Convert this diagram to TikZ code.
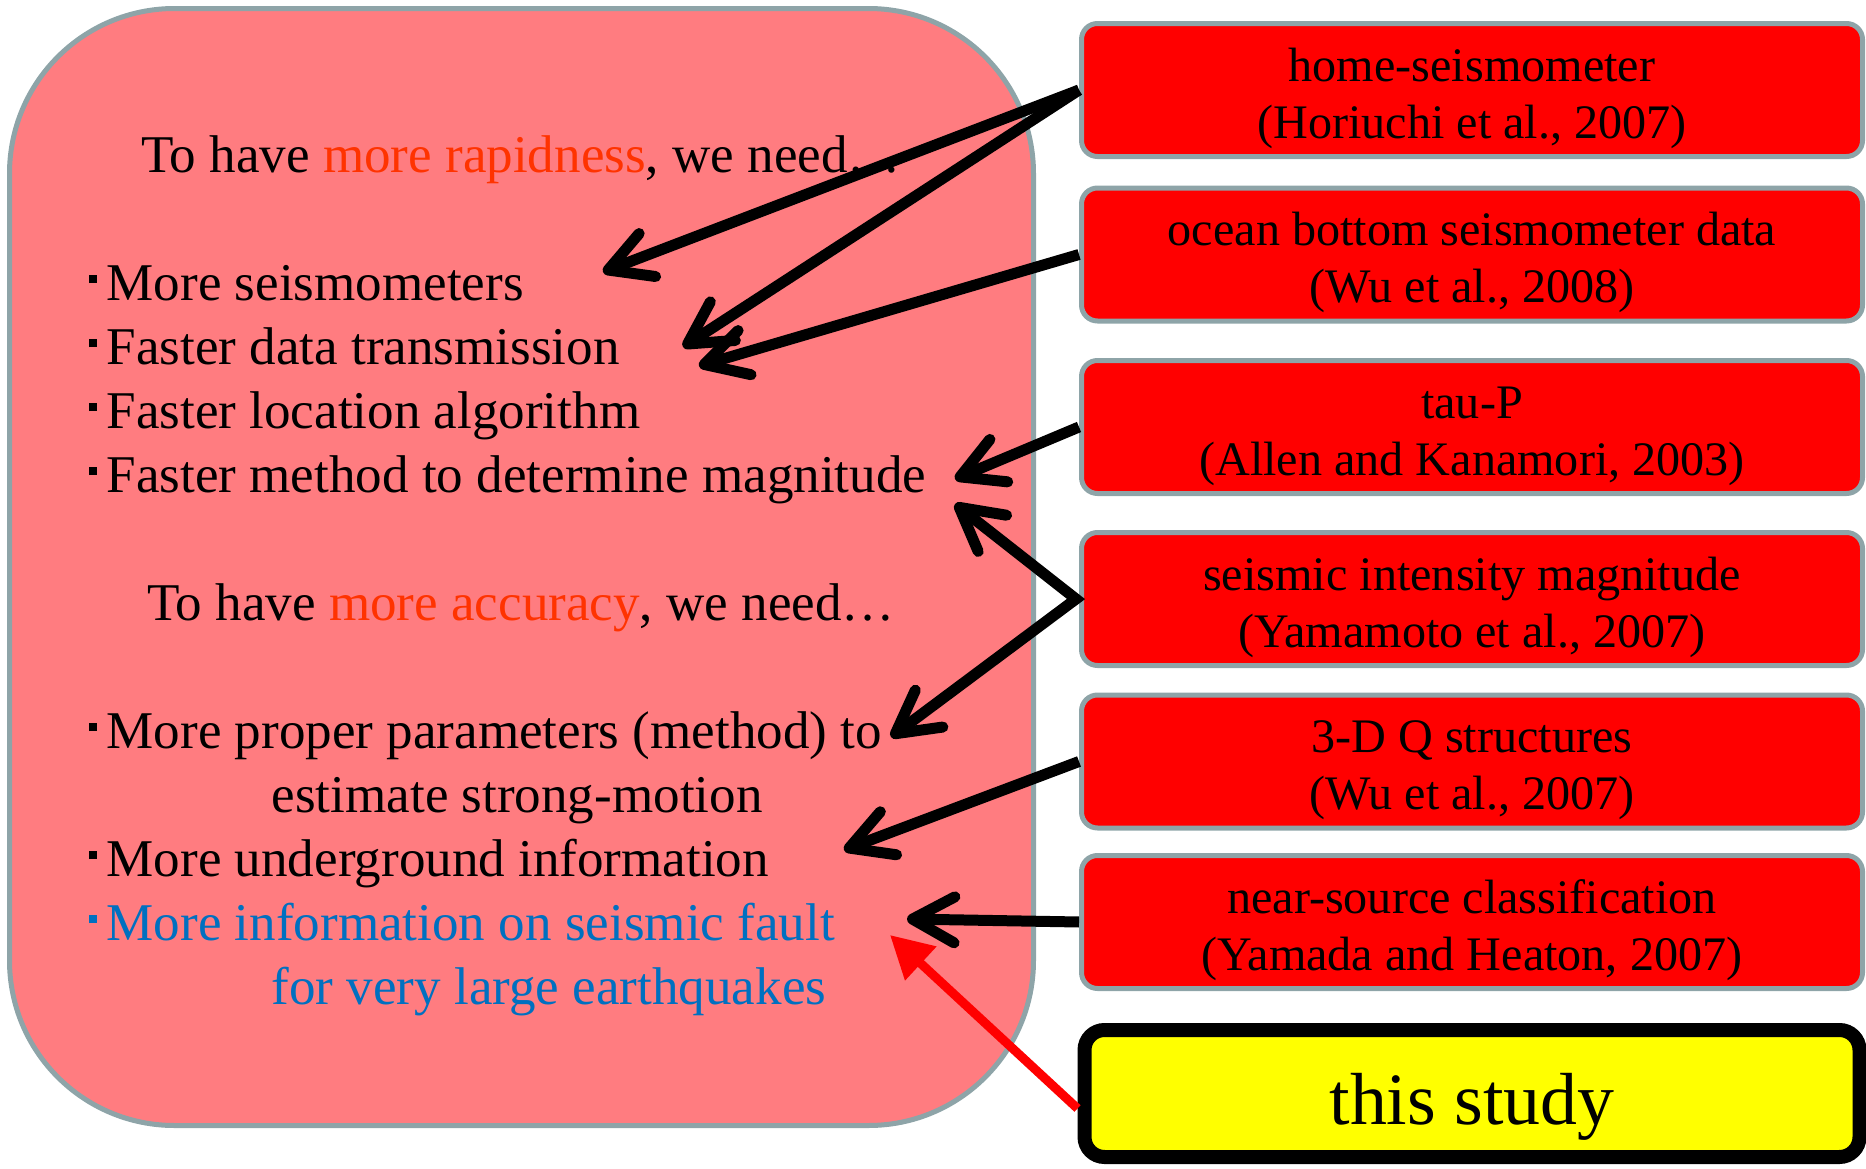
\documentclass[tikz,border=0pt]{standalone}
\usepackage{fontspec}
\setmainfont{Liberation Serif}
\usetikzlibrary{arrows.meta, positioning}
\definecolor{clrNeed}{HTML}{FF7C80}
\definecolor{clrEdge}{HTML}{8EA4A8}
\definecolor{clrRef}{HTML}{FF0000}
\definecolor{clrStudy}{HTML}{FFFF00}
\definecolor{clrHi}{HTML}{FF3300}
\definecolor{clrBlue}{HTML}{0070C0}
\newcommand{\sqbul}{\rule[0.32em]{0.15em}{0.15em}\hspace{0.19em}}
\newcommand{\reftop}{\rule{0pt}{1.03em}}
\tikzset{
  need/.style = {font=\fontsize{15.1}{18.2}\selectfont, inner sep=0pt},
  head/.style = {need, anchor=base},
  item/.style = {need, anchor=base west},
  arrow/.style = {->, >={Straight Barb[round, length=4.2mm, width=4.6mm]}, line width=1.1mm},
  rarrow/.style = {->, >={Triangle[length=4.2mm, width=4.4mm]}, line width=0.9mm, color=clrRef},
}

\begin{document}
\begin{tikzpicture}[x=0.1mm, y=-0.1mm,
  needbox/.style = {rectangle, rounded corners=16.5mm, minimum width=102.4mm, minimum height=111.7mm,
                    draw=clrEdge, line width=0.5mm, fill=clrNeed},
  ref/.style = {rectangle, rounded corners=1.6mm, minimum width=78.1mm, minimum height=13.3mm, inner ysep=0.3mm,
                align=center, font=\fontsize{13.7}{16.3}\selectfont, draw=clrEdge, line width=0.5mm, fill=clrRef},
  study/.style = {rectangle, rounded corners=2mm, minimum width=77.5mm, minimum height=12.7mm, inner ysep=0.5mm,
                  text height=6.2mm, text depth=0pt,
                  font=\fontsize{21}{25}\selectfont, draw=black, line width=1.4mm, fill=clrStudy},
]
  \useasboundingbox (0,0) rectangle (1866,1168);

  % Left panel: what is needed
  \node[needbox] (Needs) at (521.5,567) {};
  \node[head] (Rapid) at (521,172) {To have \textcolor{clrHi}{more rapidness}, we need…};
  \node[item] (Seis)  at (88,300) {\sqbul More seismometers};
  \node[item] (Trans) at (88,364) {\sqbul Faster data transmission};
  \node[item] (Loc)   at (88,428) {\sqbul Faster location algorithm};
  \node[item] (Mag)   at (88,492) {\sqbul Faster method to determine magnitude};
  \node[head] (Accur) at (521,620) {To have \textcolor{clrHi}{more accuracy}, we need…};
  \node[item] (Param)  at (88,748)  {\sqbul More proper parameters (method) to};
  \node[item] (ParamB) at (271,812) {estimate strong-motion};
  \node[item] (Under)  at (88,876)  {\sqbul More underground information};
  \node[item, text=clrBlue] (Fault)  at (88,940)  {\sqbul More information on seismic fault};
  \node[item, text=clrBlue] (FaultB) at (271,1004) {for very large earthquakes};

  % Right column: references
  \node[ref] (Home) at (1472,90) {\reftop home-seismometer\\(Horiuchi et al., 2007)};
  \node[ref, below=2.65mm of Home]   (OBS)     {\reftop ocean bottom seismometer data\\(Wu et al., 2008)};
  \node[ref, below=3.45mm of OBS]    (TauP)    {\reftop tau-P\\(Allen and Kanamori, 2003)};
  \node[ref, below=3.4mm of TauP]    (Intens)  {\reftop seismic intensity magnitude\\(Yamamoto et al., 2007)};
  \node[ref, below=2.45mm of Intens] (QStruct) {\reftop 3-D Q structures\\(Wu et al., 2007)};
  \node[ref, below=2.25mm of QStruct](NearSrc) {\reftop near-source classification\\(Yamada and Heaton, 2007)};
  \node[study, below=3.2mm of NearSrc] (Study) {this study};

  % Arrow tips inside the left panel
  \coordinate (tSeis)   at (603,272);
  \coordinate (tTrans)  at (683,347);
  \coordinate (tTransB) at (699,366);
  \coordinate (tMag)    at (955,479);
  \coordinate (tMagB)   at (955,504);
  \coordinate (tParam)  at (891,737);
  \coordinate (tUnder)  at (844,850);
  \coordinate (tFault)  at (907,919);
  \coordinate (tStudy)  at (890,935);

  \draw[arrow] (Home.west) -- (tSeis);
  \draw[arrow] (Home.west) -- (tTrans);
  \draw[arrow] (OBS.west) -- (tTransB);
  \draw[arrow] (TauP.west) -- (tMag);
  \draw[arrow, <->] (tMagB) -- ([xshift=-0.3mm]Intens.west) -- (tParam);
  \draw[arrow] (QStruct.west) -- (tUnder);
  \draw[arrow] (NearSrc.west) -- (tFault);
  \draw[rarrow] ([yshift=-1.5mm]Study.west) -- (tStudy);

\end{tikzpicture}
\end{document}
